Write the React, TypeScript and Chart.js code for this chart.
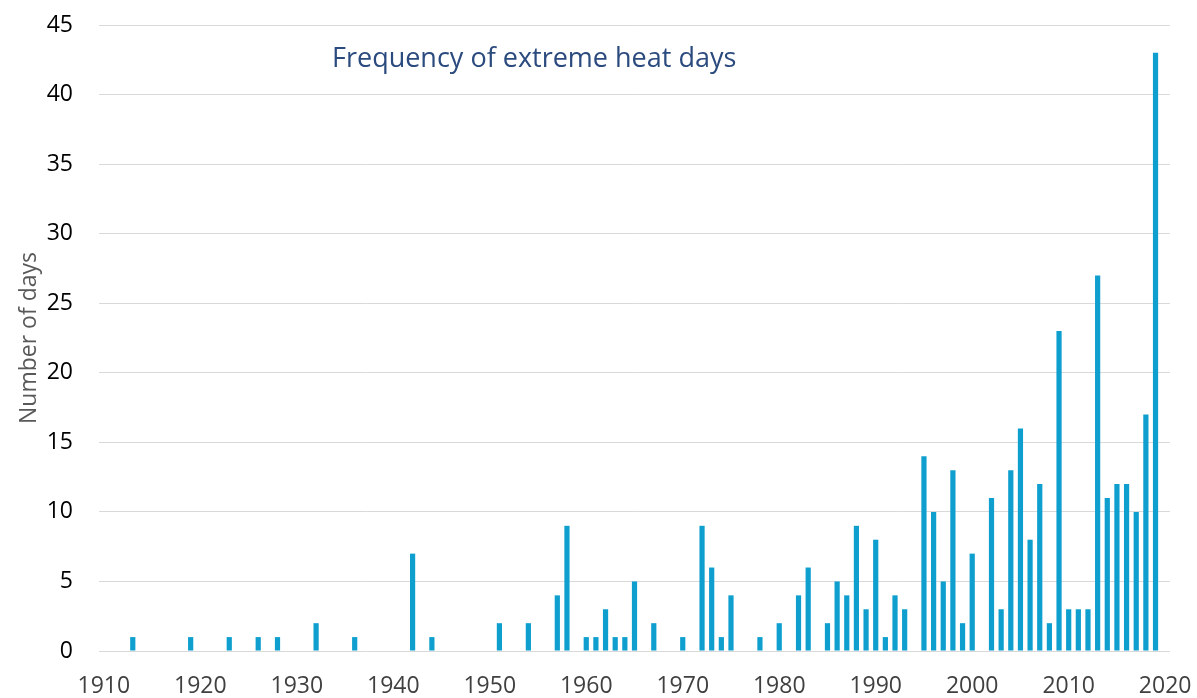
import React, { useEffect, useRef } from "react";
import { Chart, registerables } from "chart.js";

Chart.register(...registerables);

const categories: string[] = [];
for (let y = 1910; y <= 2020; y++) categories.push(String(y));

const eventYears = [
  1913, 1919, 1923, 1926, 1928, 1932, 1936, 1942, 1944,
  1951, 1954, 1957, 1958, 1960, 1961, 1962, 1963, 1964, 1965, 1967,
  1970, 1972, 1973, 1974, 1975, 1978,
  1980, 1982, 1983, 1985, 1986, 1987, 1988, 1989,
  1990, 1991, 1992, 1993, 1995, 1996, 1997, 1998, 1999,
  2000, 2002, 2003, 2004, 2005, 2006, 2007, 2008, 2009,
  2010, 2011, 2012, 2013, 2014, 2015, 2016, 2017, 2018, 2019,
];
const dayCounts = [
  1, 1, 1, 1, 1, 2, 1, 7, 1,
  2, 2, 4, 9, 1, 1, 3, 1, 1, 5, 2,
  1, 9, 6, 1, 4, 1,
  2, 4, 6, 2, 5, 4, 9, 3,
  8, 1, 4, 3, 14, 10, 5, 13, 2,
  7, 11, 3, 13, 16, 8, 12, 2, 23,
  3, 3, 3, 27, 11, 12, 12, 10, 17, 43,
];
const yTicks = [0, 5, 10, 15, 20, 25, 30, 35, 40, 45];
const chartTitle = "Frequency of extreme heat days";
const yTitle = "Number of days";

const FONT = "'Open Sans', sans-serif";

const zeroPadding = (s: any) => {
  s.paddingTop = 0;
  s.paddingBottom = 0;
  s.paddingLeft = 0;
  s.paddingRight = 0;
};

export default function App() {
  const ref = useRef<HTMLCanvasElement | null>(null);
  useEffect(() => {
    if (!ref.current) return;
    const values = categories.map((c) => {
      const i = eventYears.indexOf(Number(c));
      return i >= 0 ? dayCounts[i] : null;
    });
    const titlePlugin = {
      id: "innerTitle",
      afterDraw(chart: any) {
        const { ctx, chartArea } = chart;
        ctx.save();
        ctx.font = `27px ${FONT}`;
        ctx.fillStyle = "#2B4A7E";
        ctx.textAlign = "left";
        ctx.textBaseline = "alphabetic";
        ctx.fillText(chartTitle, chartArea.left + 233, chartArea.top + 42);
        ctx.restore();
      },
    };
    const chart = new Chart(ref.current, {
      type: "bar",
      data: {
        labels: categories,
        datasets: [
          {
            data: values as any,
            backgroundColor: "#0E9FCF",
            borderWidth: 0,
            categoryPercentage: 1,
            barPercentage: 0.54,
          },
        ],
      },
      plugins: [titlePlugin],
      options: {
        animation: false,
        responsive: false,
        maintainAspectRatio: false,
        layout: { padding: { left: 16, right: 27, top: 25, bottom: 0 } },
        plugins: { legend: { display: false }, tooltip: { enabled: false }, title: { display: false } },
        scales: {
          x: {
            grid: { display: false, drawTicks: false },
            border: { display: false },
            ticks: {
              autoSkip: false,
              maxRotation: 0,
              minRotation: 0,
              padding: 22,
              color: "#404040",
              font: { family: FONT, size: 23 },
              callback: (_v: any, i: number) => {
                const y = Number(categories[i]);
                return y % 10 === 0 ? String(y) : "";
              },
            },
            afterFit: (s: any) => {
              s.height = 47;
              zeroPadding(s);
            },
          },
          y: {
            min: 0,
            max: 45,
            afterBuildTicks: (s: any) => {
              s.ticks = yTicks.map((v) => ({ value: v }));
            },
            grid: { color: "#D9D9D9", lineWidth: 1, drawTicks: false },
            border: { display: false },
            ticks: {
              padding: 26,
              color: "#000000",
              font: { family: FONT, size: 23 },
            },
            title: {
              display: true,
              text: yTitle,
              color: "#595959",
              font: { family: FONT, size: 23 },
              padding: { top: 0, bottom: 0 },
            },
            afterFit: (s: any) => {
              s.width = 99 - 16;
              zeroPadding(s);
            },
          },
        },
      },
    });
    return () => chart.destroy();
  }, []);
  return (
    <div style={{ position: "absolute", left: 0, top: 0, width: 1197, height: 698, background: "#fff" }}>
      <canvas ref={ref} width={1197} height={698} style={{ display: "block" }} />
    </div>
  );
}
